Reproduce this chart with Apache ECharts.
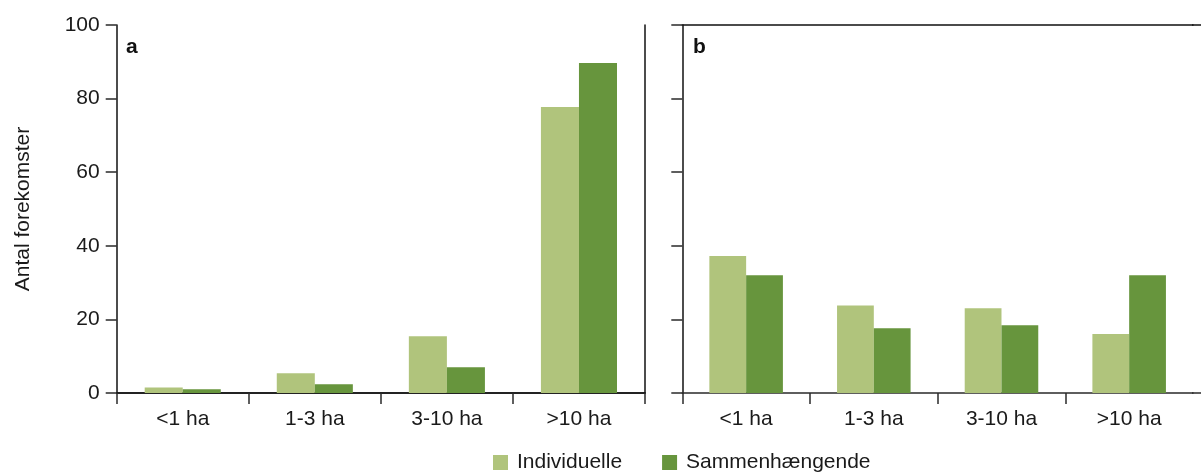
<!DOCTYPE html>
<html>
<head>
<meta charset="utf-8">
<script src="https://cdn.jsdelivr.net/npm/echarts@6/dist/echarts.min.js"></script>
<style>html,body{margin:0;padding:0;background:#fff}#c{width:1201px;height:473px}</style>
</head>
<body>
<div id="c"></div>
<script>
const categories = ['<1 ha', '1-3 ha', '3-10 ha', '>10 ha'];
const seriesNames = ['Individuelle', 'Sammenhængende'];
const panelA_individuelle = [1.5, 5.4, 15.4, 77.7];
const panelA_sammen = [1.0, 2.4, 7.0, 89.7];
const panelB_individuelle = [37.2, 23.8, 23.0, 16.0];
const panelB_sammen = [32.0, 17.6, 18.4, 32.0];
const yTicks = [0, 20, 40, 60, 80, 100];
const bandTicks = [0, 1, 2, 3];

const lightGreen = '#b0c47c';
const darkGreen = '#67953d';
const lineCol = '#2a2a2a';
const font = 'Liberation Sans, Arial, sans-serif';
const FS = 21;

const G0 = {left: 116.7, top: 25, width: 528.3, height: 368};
const G1 = {left: 682.3, top: 25, width: 510.7, height: 368};

const chart = echarts.init(document.getElementById('c'));

function xCat(gi, showTicks) {
  return {
    type: 'category', gridIndex: gi, data: categories, position: 'bottom',
    axisLine: {show: true, lineStyle: {color: lineCol, width: 1.5}},
    axisTick: {show: showTicks, length: 11, lineStyle: {color: lineCol, width: 1.5}},
    axisLabel: {show: true, fontSize: FS, color: '#1a1a1a', fontFamily: font, margin: 16},
    splitLine: {show: false}
  };
}
function xTop(gi) {
  return {
    type: 'category', gridIndex: gi, data: categories, position: 'top',
    axisLine: {show: true, lineStyle: {color: '#111', width: 1.5}},
    axisTick: {show: false}, axisLabel: {show: false}, splitLine: {show: false}
  };
}
function xTickAxis(gi) {
  return {
    type: 'value', gridIndex: gi, min: 0, max: categories.length, position: 'bottom',
    axisLine: {show: false},
    axisTick: {show: true, length: 11, customValues: bandTicks, lineStyle: {color: lineCol, width: 1.5}},
    axisLabel: {show: false}, splitLine: {show: false}
  };
}
function yVal(gi, showLabels, name) {
  return {
    type: 'value', gridIndex: gi, min: yTicks[0], max: yTicks[yTicks.length - 1], interval: yTicks[1] - yTicks[0],
    name: name || '', nameLocation: 'middle', nameGap: 83, nameRotate: 90,
    nameTextStyle: {fontSize: FS, color: '#1a1a1a', fontFamily: font},
    axisLine: {show: true, lineStyle: {color: '#111', width: 1.5}},
    axisTick: {show: true, length: 11, lineStyle: {color: lineCol, width: 1.5}},
    axisLabel: {show: showLabels, fontSize: FS, color: '#1a1a1a', fontFamily: font, margin: 17},
    splitLine: {show: false}
  };
}
function yRight(gi) {
  return {
    type: 'value', gridIndex: gi, min: 0, max: 100, position: 'right',
    axisLine: {show: true, lineStyle: {color: '#111', width: 1.5}},
    axisTick: {show: false}, axisLabel: {show: false}, splitLine: {show: false}
  };
}
function bar(name, data, xi, yi, color) {
  return {
    type: 'bar', name: name, data: data, xAxisIndex: xi, yAxisIndex: yi,
    barWidth: '28.8%', barGap: '0%', itemStyle: {color: color}, silent: true
  };
}

const rightEnd = G1.left + G1.width;

chart.setOption({
  animation: false,
  backgroundColor: '#fff',
  title: [
    {text: 'a', left: 121, top: 32, textStyle: {fontSize: FS, fontWeight: 'bold', color: '#111', fontFamily: font}},
    {text: 'b', left: 688, top: 32, textStyle: {fontSize: FS, fontWeight: 'bold', color: '#111', fontFamily: font}}
  ],
  legend: {
    data: seriesNames, left: 488, top: 447, itemWidth: 15, itemHeight: 15, itemGap: 40,
    icon: 'rect', textStyle: {fontSize: FS, color: '#1a1a1a', fontFamily: font, padding: [0, 0, 0, 4]}
  },
  grid: [
    Object.assign({containLabel: false}, G0),
    Object.assign({containLabel: false}, G1)
  ],
  xAxis: [xCat(0, true), xCat(1, false), xTop(0), xTop(1), xTickAxis(1)],
  yAxis: [yVal(0, true, 'Antal forekomster'), yVal(1, false), yRight(0)],
  series: [
    bar(seriesNames[0], panelA_individuelle, 0, 0, lightGreen),
    bar(seriesNames[1], panelA_sammen, 0, 0, darkGreen),
    bar(seriesNames[0], panelB_individuelle, 1, 1, lightGreen),
    bar(seriesNames[1], panelB_sammen, 1, 1, darkGreen)
  ],
  graphic: [
    {type: 'line', shape: {x1: rightEnd - 1, y1: G1.top, x2: 1201, y2: G1.top}, style: {stroke: '#111', lineWidth: 1.5}, silent: true},
    {type: 'line', shape: {x1: rightEnd - 1, y1: G1.top + G1.height, x2: 1201, y2: G1.top + G1.height}, style: {stroke: lineCol, lineWidth: 1.5}, silent: true}
  ]
});
</script>
</body>
</html>
